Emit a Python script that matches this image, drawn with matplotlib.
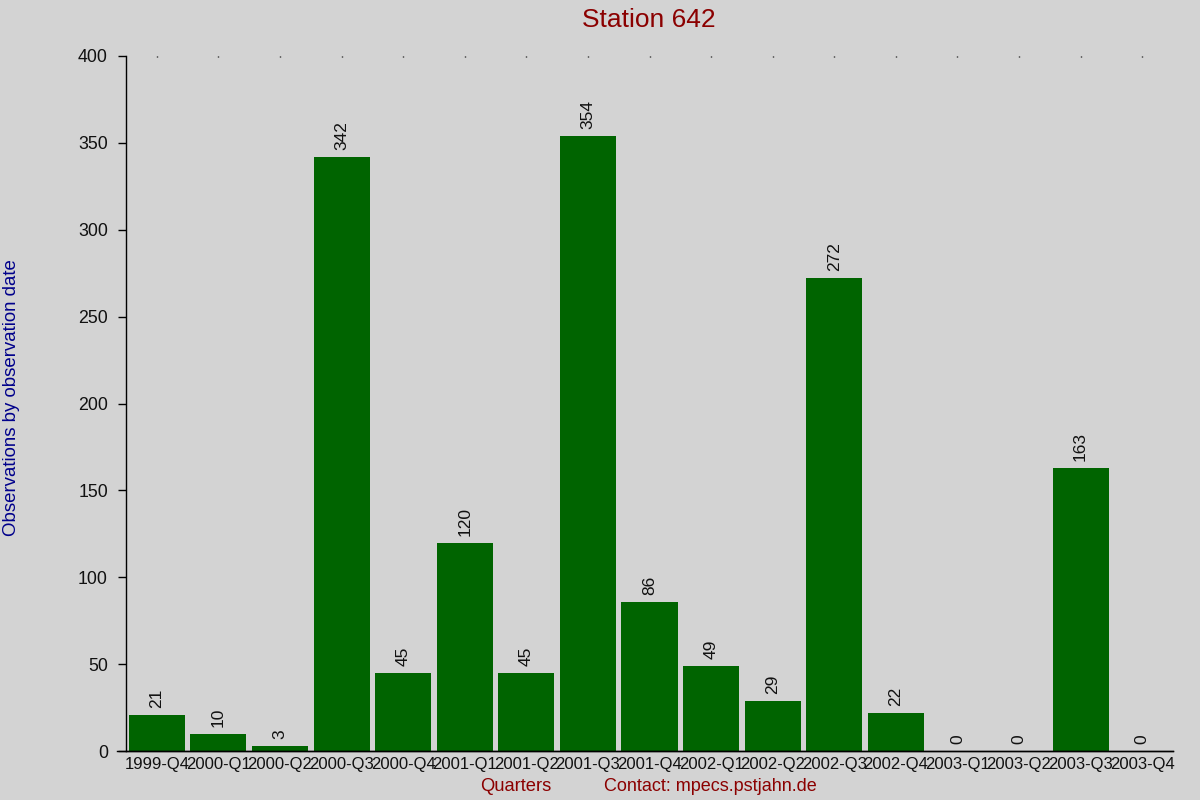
import matplotlib
matplotlib.use("Agg")
import matplotlib.pyplot as plt

quarters = ["1999-Q4", "2000-Q1", "2000-Q2", "2000-Q3", "2000-Q4",
            "2001-Q1", "2001-Q2", "2001-Q3", "2001-Q4",
            "2002-Q1", "2002-Q2", "2002-Q3", "2002-Q4",
            "2003-Q1", "2003-Q2", "2003-Q3", "2003-Q4"]
counts = [21, 10, 3, 342, 45, 120, 45, 354, 86, 49, 29, 272, 22, 0, 0, 163, 0]
y_ticks = [0, 50, 100, 150, 200, 250, 300, 350, 400]

plt.rcParams['font.family'] = ['Liberation Sans', 'DejaVu Sans']

bg = "#d3d3d3"
fig = plt.figure(figsize=(12, 8), dpi=100, facecolor=bg)
ax = fig.add_axes([0.105, 0.06125, 0.8725, 0.86875], facecolor=bg)

xs = list(range(len(quarters)))
ax.bar(xs, counts, width=0.91, color="#006400", zorder=2)

for xi, v in zip(xs, counts):
    ax.annotate(str(v), (xi, v), xytext=(0, 5), textcoords="offset points",
                rotation=90, ha="center", va="bottom", fontsize=12.5, color="#111111")

ax.set_xlim(-0.5, len(quarters) - 0.5)
ax.set_ylim(0, 400)
ax.set_yticks(y_ticks)
ax.set_xticks(xs)
ax.set_xticklabels(quarters, fontsize=12, color="#111111")
ax.tick_params(axis="y", direction="out", length=6, width=1, pad=7,
               labelsize=12.8, labelcolor="#111111")
ax.tick_params(axis="x", bottom=False, top=True, direction="in", length=1,
               width=1, pad=4)

for side in ["top", "right"]:
    ax.spines[side].set_visible(False)
ax.spines["left"].set_linewidth(1)
ax.spines["bottom"].set_linewidth(1)
# extend the x axis line past the y spine, like the original
ax.plot([-0.009, 1.0], [0, 0], transform=ax.transAxes, color="black",
        linewidth=1, clip_on=False, zorder=3)

fig.text(0.541, 0.975, "Station 642", ha="center", va="center",
         fontsize=19, color="#8b0000")
fig.text(0.010, 0.503, "Observations by observation date", rotation=90,
         ha="center", va="center", fontsize=13.4, color="#00008b")
fig.text(0.430, 0.017, "Quarters", ha="center", va="center",
         fontsize=13.2, color="#8b0000")
fig.text(0.592, 0.017, "Contact: mpecs.pstjahn.de", ha="center", va="center",
         fontsize=13, color="#8b0000")

fig.savefig("out.png", dpi=100, facecolor=bg)
